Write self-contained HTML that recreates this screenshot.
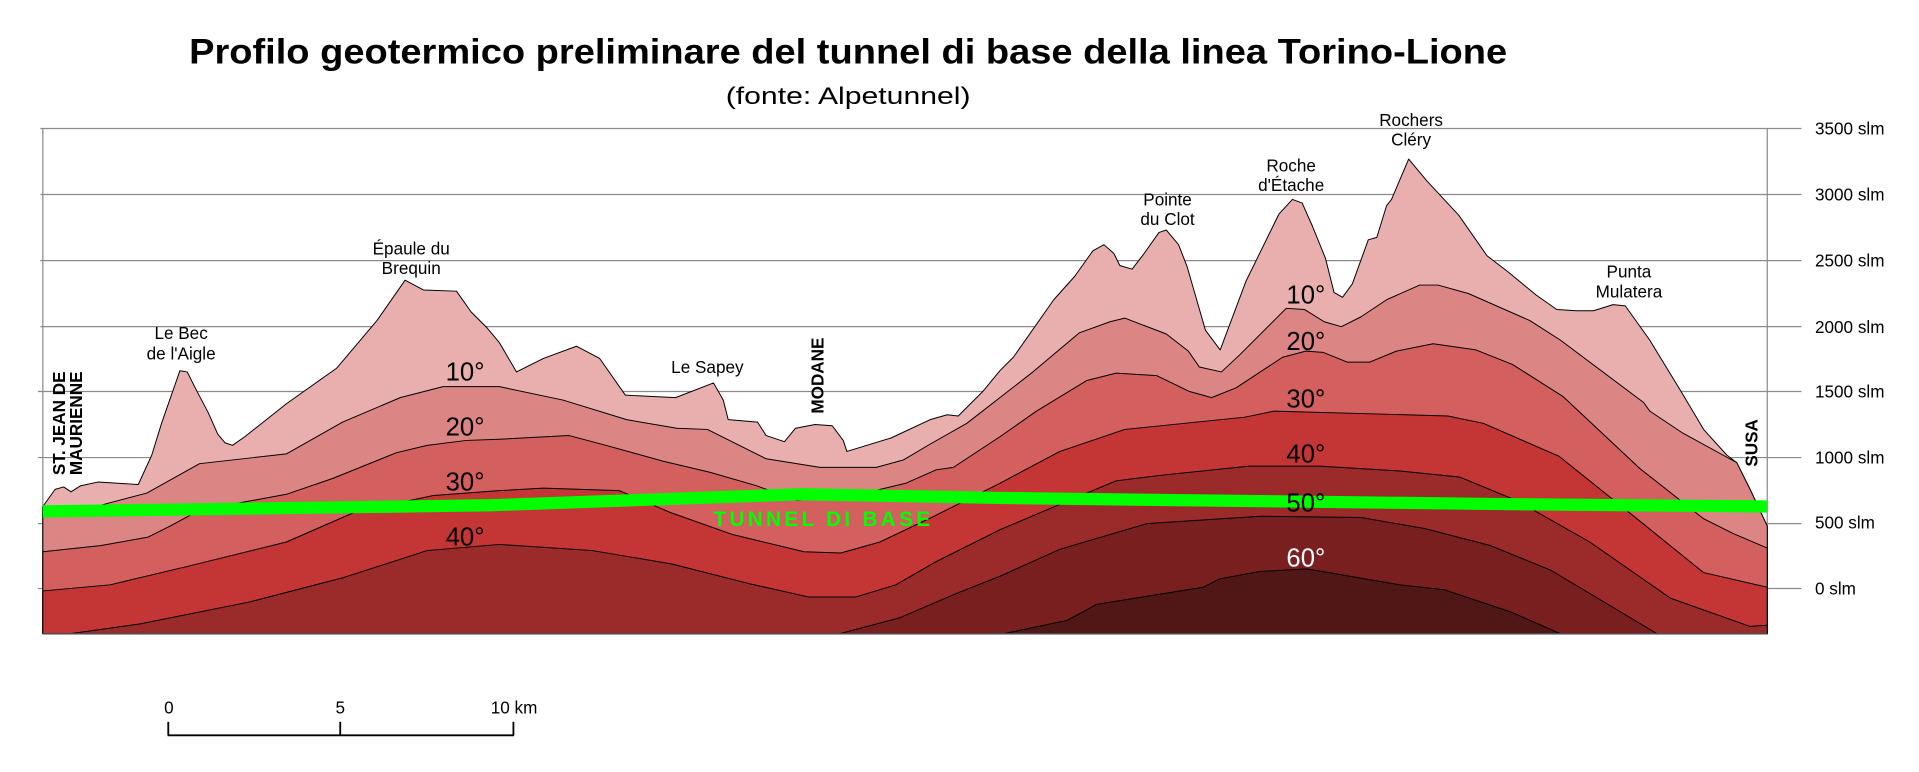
<!DOCTYPE html>
<html><head><meta charset="utf-8"><style>
html,body{margin:0;padding:0;background:#fff;}
svg{display:block;}
text{font-family:"Liberation Sans",sans-serif;}
</style></head><body>
<svg width="1919" height="772" viewBox="0 0 1568 631" preserveAspectRatio="none" xmlns="http://www.w3.org/2000/svg">
<rect width="1568" height="631" fill="#fff"/>
<text x="693" y="52" text-anchor="middle" font-size="29" font-weight="bold" textLength="1077" lengthAdjust="spacingAndGlyphs">Profilo geotermico preliminare del tunnel di base della linea Torino-Lione</text>
<text x="693" y="85" text-anchor="middle" font-size="20" textLength="200" lengthAdjust="spacingAndGlyphs">(fonte: Alpetunnel)</text>
<g stroke="#8a8a8a" stroke-width="1">
<line x1="33" y1="105" x2="1472" y2="105"/><line x1="33" y1="159" x2="1472" y2="159"/>
<line x1="33" y1="213" x2="1472" y2="213"/><line x1="33" y1="267" x2="1472" y2="267"/>
<line x1="31" y1="320" x2="1472" y2="320"/><line x1="31" y1="374" x2="1472" y2="374"/>
<line x1="31" y1="428" x2="1472" y2="428"/><line x1="31" y1="481" x2="1472" y2="481"/>
<line x1="35" y1="105" x2="35" y2="518"/><line x1="1444" y1="105" x2="1444" y2="518"/>
</g>
<g font-size="14" fill="#000">
<text x="1483" y="110">3500 slm</text><text x="1483" y="164">3000 slm</text>
<text x="1483" y="218">2500 slm</text><text x="1483" y="272">2000 slm</text>
<text x="1483" y="325">1500 slm</text><text x="1483" y="379">1000 slm</text>
<text x="1483" y="432">500 slm</text><text x="1483" y="486">0 slm</text>
</g>
<g stroke="#000" stroke-width="0.8" stroke-linejoin="round">
<polygon fill="#e8afae" points="35,414 45,400 52,398 58,402 66,397 80,394 113,396 124,372 132,346 147,303 153,304 160,318 170,337 178,355 184,362 190,364 200,357 234,330 275,301 308,262 331,229 346,237 373,238 385,255 398,268 408,280 422,304 444,293 471,283 490,293 511,323 552,325 583,313 591,327 595,343 619,345 626,356 641,361 650,350 666,347 680,348 689,360 692,369 728,358 760,343 774,339 783,340 803,320 817,303 828,292 861,245 878,226 893,205 902,200 910,207 915,217 925,220 935,207 947,190 953,188 963,200 970,218 985,270 997,286 1018,230 1045,175 1056,163 1064,166 1072,184 1083,211 1090,239 1097,243 1105,232 1118,196 1125,194 1133,168 1137,163 1151,130 1166,148 1192,176 1215,209 1232,222 1255,241 1272,253 1288,254 1302,254 1318,249 1328,250 1348,278 1373,319 1392,351 1411,372 1419,378 1430,400 1444,430 1444,518 35,518"/>
<polygon fill="#dc8585" points="35,415 82,413 120,403 163,379 234,371 280,345 327,325 362,316 387,316 408,316 460,327 512,343 553,350 578,351 626,375 670,382 716,382 738,376 760,363 790,346 817,325 844,304 882,272 907,263 919,260 953,273 971,287 980,300 998,304 1013,290 1051,252 1066,253 1082,263 1096,267 1112,259 1133,245 1160,233 1175,233 1200,240 1250,262 1275,278 1343,329 1348,336 1375,354 1417,377 1419,378 1430,400 1444,430 1444,518 35,518"/>
<polygon fill="#d35f5f" points="35,451 82,446 121,439 139,430 163,417 234,404 272,391 324,370 349,364 381,360 408,359 465,356 495,364 542,377 580,386 618,397 651,409 694,406 740,395 765,384 779,382 817,357 847,336 888,311 912,305 945,307 972,320 990,325 1010,317 1048,292 1067,287 1081,288 1101,296 1119,296 1141,287 1171,281 1206,286 1236,298 1277,324 1340,383 1392,424 1416,436 1444,448 1444,518 35,518"/>
<polygon fill="#c43535" points="35,483 90,478 153,463 234,443 289,419 354,405 408,401 444,399 506,401 548,419 599,437 657,451 687,452 719,443 763,422 817,395 866,369 919,351 1017,341 1041,336 1183,340 1212,346 1274,373 1340,426 1392,468 1444,480 1444,518 35,518"/>
<polygon fill="#9b2a2b" points="57,518 114,510 204,492 281,472 349,450 408,445 484,450 549,461 612,477 661,488 699,488 732,478 765,459 817,433 869,411 912,393 953,388 1021,381 1078,381 1144,385 1193,390 1239,409 1299,443 1365,489 1430,512 1444,511 1444,518"/>
<polygon fill="#7a1f20" points="686,518 735,505 784,484 817,471 866,449 937,428 1030,422 1112,423 1164,432 1218,446 1267,466 1354,518"/>
<polygon fill="#511616" points="820,518 872,507 896,494 983,480 997,473 1030,467 1068,465 1144,478 1180,482 1234,500 1275,518"/>
</g>
<line x1="35" y1="518" x2="1444" y2="518" stroke="#555" stroke-width="1"/>
<polyline fill="none" stroke="#00ff00" stroke-width="10" points="35,418 330,414 400,413 655,404 817,407 1226,412 1444,414"/>
<text x="673" y="430" text-anchor="middle" font-size="17" font-weight="bold" fill="#00ff00" letter-spacing="3" textLength="180" lengthAdjust="spacing">TUNNEL DI BASE</text>
<g font-size="21" text-anchor="middle" fill="#000">
<text x="380" y="311">10°</text><text x="380" y="356">20°</text><text x="380" y="401">30°</text><text x="380" y="446">40°</text>
<text x="1067" y="248">10°</text><text x="1067" y="286">20°</text><text x="1067" y="333">30°</text><text x="1067" y="378">40°</text><text x="1067" y="418">50°</text><text x="1067" y="463" fill="#fff">60°</text>
</g>
<g font-size="14" text-anchor="middle" fill="#000">
<text x="148" y="277">Le Bec</text><text x="148" y="294">de l'Aigle</text>
<text x="336" y="208">Épaule du</text><text x="336" y="224">Brequin</text>
<text x="578" y="305">Le Sapey</text>
<text x="954" y="168">Pointe</text><text x="954" y="184">du Clot</text>
<text x="1055" y="140">Roche</text><text x="1055" y="156">d'Étache</text>
<text x="1153" y="103">Rochers</text><text x="1153" y="119">Cléry</text>
<text x="1331" y="227">Punta</text><text x="1331" y="243">Mulatera</text>
</g>
<g font-size="14" font-weight="bold" text-anchor="middle" fill="#000">
<text transform="translate(673,307) rotate(-90)">MODANE</text>
<text transform="translate(53,346) rotate(-90)">ST. JEAN DE</text>
<text transform="translate(67,346) rotate(-90)">MAURIENNE</text>
<text transform="translate(1436,362) rotate(-90)">SUSA</text>
</g>
<g font-size="14" fill="#000" text-anchor="middle">
<text x="138" y="583">0</text><text x="278" y="583">5</text><text x="420" y="583">10 km</text>
</g>
<g stroke="#000" stroke-width="1.5">
<line x1="137" y1="601" x2="420" y2="601"/>
<line x1="137.5" y1="590" x2="137.5" y2="601"/><line x1="278" y1="590" x2="278" y2="601"/><line x1="419.5" y1="590" x2="419.5" y2="601"/>
</g>
</svg>
</body></html>
